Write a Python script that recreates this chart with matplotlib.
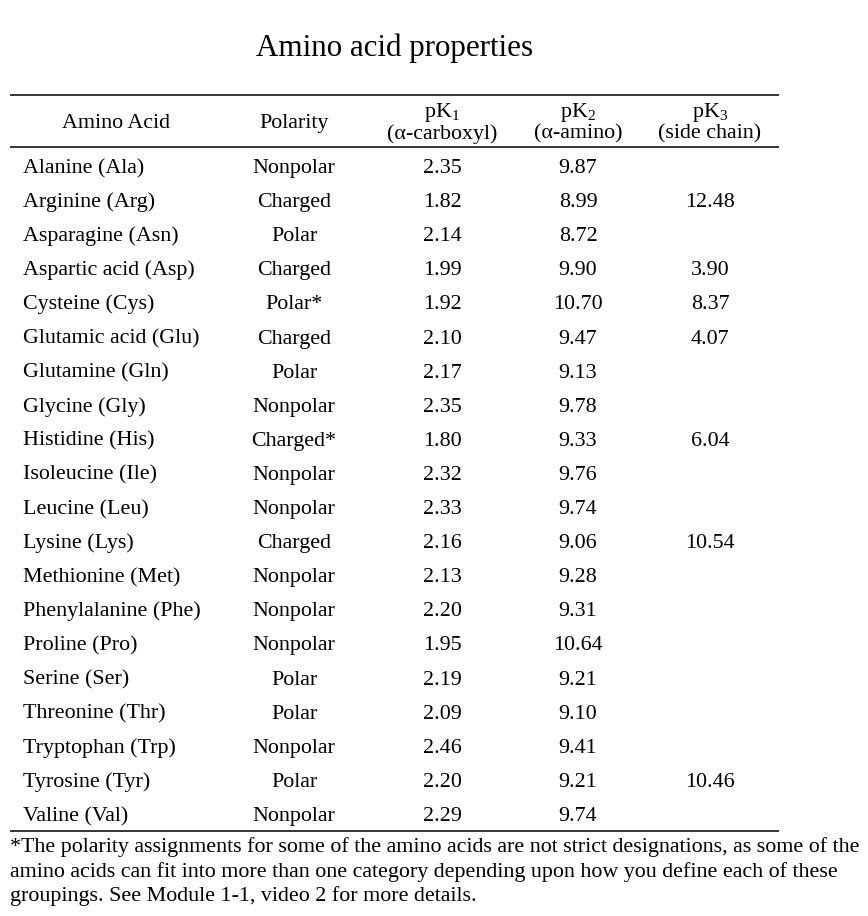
import matplotlib
matplotlib.use("Agg")
import matplotlib.pyplot as plt

plt.rcParams['font.family'] = ['Liberation Serif', 'DejaVu Serif']
plt.rcParams['mathtext.fontset'] = 'custom'
plt.rcParams['mathtext.rm'] = 'Liberation Serif'
plt.rcParams['mathtext.it'] = 'Liberation Serif'

title = "Amino acid properties"
headers = ["Amino Acid", "Polarity", r"pK$_1$" + "\n(α-carboxyl)", r"pK$_2$" + "\n(α-amino)", r"pK$_3$" + "\n(side chain)"]
amino_acids = ["Alanine (Ala)", "Arginine (Arg)", "Asparagine (Asn)", "Aspartic acid (Asp)",
               "Cysteine (Cys)", "Glutamic acid (Glu)", "Glutamine (Gln)", "Glycine (Gly)",
               "Histidine (His)", "Isoleucine (Ile)", "Leucine (Leu)", "Lysine (Lys)",
               "Methionine (Met)", "Phenylalanine (Phe)", "Proline (Pro)", "Serine (Ser)",
               "Threonine (Thr)", "Tryptophan (Trp)", "Tyrosine (Tyr)", "Valine (Val)"]
polarity = ["Nonpolar", "Charged", "Polar", "Charged", "Polar*", "Charged", "Polar", "Nonpolar",
            "Charged*", "Nonpolar", "Nonpolar", "Charged", "Nonpolar", "Nonpolar", "Nonpolar",
            "Polar", "Polar", "Nonpolar", "Polar", "Nonpolar"]
pk1 = ["2.35", "1.82", "2.14", "1.99", "1.92", "2.10", "2.17", "2.35", "1.80", "2.32",
       "2.33", "2.16", "2.13", "2.20", "1.95", "2.19", "2.09", "2.46", "2.20", "2.29"]
pk2 = ["9.87", "8.99", "8.72", "9.90", "10.70", "9.47", "9.13", "9.78", "9.33", "9.76",
       "9.74", "9.06", "9.28", "9.31", "10.64", "9.21", "9.10", "9.41", "9.21", "9.74"]
pk3 = ["", "12.48", "", "3.90", "8.37", "4.07", "", "", "6.04", "",
       "", "10.54", "", "", "", "", "", "", "10.46", ""]
footnote = ["*The polarity assignments for some of the amino acids are not strict designations, as some of the",
            "amino acids can fit into more than one category depending upon how you define each of these",
            "groupings. See Module 1-1, video 2 for more details."]

W, H = 868, 916
fig = plt.figure(figsize=(W / 100, H / 100), dpi=100)
ax = fig.add_axes([0, 0, 1, 1])
ax.set_xlim(0, W)
ax.set_ylim(H, 0)
ax.axis('off')

fs = 15.8
ax.text(395, 56, title, ha='center', va='baseline', fontsize=22.3)

x0, x1 = 10, 779
for y in (94.5, 147, 830.5):
    ax.plot([x0, x1], [y, y], color='black', lw=1.1, solid_capstyle='butt')

col_x = [116, 294, 442, 578, 710]
for i, h in enumerate(headers):
    if i < 2:
        ax.text(col_x[i], 128, h, ha='center', va='baseline', fontsize=fs)
    else:
        top, bot = h.split("\n")
        ax.text(col_x[i], 117, top, ha='center', va='baseline', fontsize=fs)
        ax.text(col_x[i], 138.5, bot, ha='center', va='baseline', fontsize=fs)

y_first, y_last = 173, 821
n = len(amino_acids)
step = (y_last - y_first) / (n - 1)
for r in range(n):
    y = y_first + r * step
    ax.text(23, y, amino_acids[r], ha='left', va='baseline', fontsize=fs)
    ax.text(col_x[1], y, polarity[r], ha='center', va='baseline', fontsize=fs)
    ax.text(col_x[2], y, pk1[r], ha='center', va='baseline', fontsize=fs)
    ax.text(col_x[3], y, pk2[r], ha='center', va='baseline', fontsize=fs)
    if pk3[r]:
        ax.text(col_x[4], y, pk3[r], ha='center', va='baseline', fontsize=fs)

for k, line in enumerate(footnote):
    ax.text(10, 852 + k * 24.5, line, ha='left', va='baseline', fontsize=fs)

fig.savefig("out.png", dpi=100, facecolor='white')
